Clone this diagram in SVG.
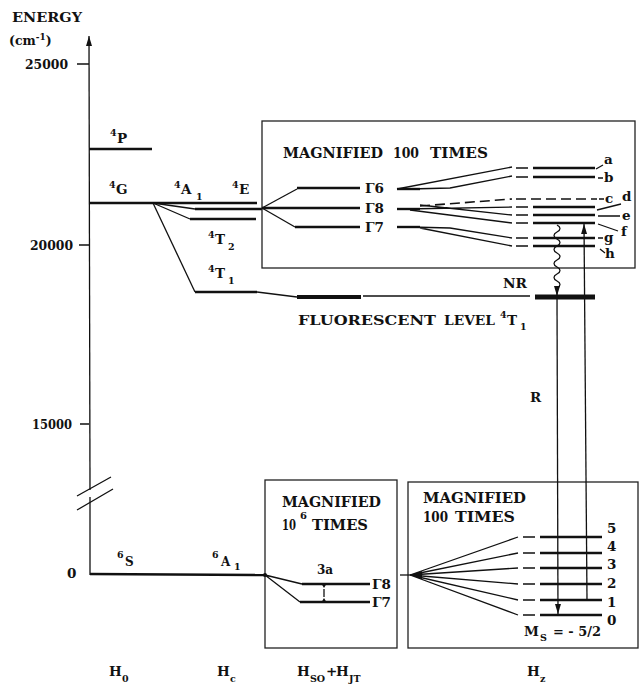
<svg xmlns="http://www.w3.org/2000/svg" width="640" height="685" viewBox="0 0 640 685">
<style>
.t{font-family:"DejaVu Serif","Liberation Serif",serif;font-weight:bold;fill:#111}
.s14{font-size:13.5px}
.s10{font-size:9.5px}
.ln{stroke:#111;stroke-width:1.3;fill:none}
.lv{stroke:#111;stroke-width:2.4;fill:none}
.bx{stroke:#222;stroke-width:1.3;fill:none}
.ds{stroke:#111;stroke-width:1.6;stroke-dasharray:10,5;fill:none}
</style>
<defs>
<marker id="ah" markerUnits="userSpaceOnUse" markerWidth="10" markerHeight="6" refX="10" refY="3" orient="auto"><path d="M0,0 L10,3 L0,6 z" fill="#111"/></marker>
</defs>
<rect width="640" height="685" fill="#fff"/>

<g id="axis">
<path class="ln" d="M90,490 L89,36" marker-end="url(#ah)"/>
<path class="ln" d="M90,575 L90,497"/>
<path class="ln" d="M77,496 L111,477 M77,510 L113,489"/>
<path class="ln" d="M77,64 L89,64 M79,245 L89,245 M80,424 L89,424"/>
<text class="t" x="12" y="22" font-size="12.5" textLength="70" lengthAdjust="spacingAndGlyphs">ENERGY</text>
<text class="t" x="9" y="45" font-size="12.5">(cm<tspan font-size="9" dy="-5">-1</tspan><tspan dy="5">)</tspan></text>
<text class="t s14" x="25" y="69" textLength="43" lengthAdjust="spacingAndGlyphs">25000</text>
<text class="t s14" x="30" y="250" textLength="43" lengthAdjust="spacingAndGlyphs">20000</text>
<text class="t s14" x="32" y="429" textLength="40" lengthAdjust="spacingAndGlyphs">15000</text>
<text class="t s14" x="67" y="578">0</text>
</g>

<g id="free-ion">
<path class="lv" d="M89,149 L152,149"/>
<path class="lv" d="M89,203 L153,203"/>
<text class="t s10" x="110" y="136">4</text><text class="t s14" x="117" y="143">P</text>
<text class="t s10" x="109" y="188">4</text><text class="t s14" x="116" y="194">G</text>
<path class="lv" d="M90,574 L265,575"/>
<text class="t s10" x="117" y="558">6</text><text class="t" font-size="12" x="125" y="566">S</text>
</g>

<g id="crystal-field">
<path class="lv" d="M153,203 L257,203"/>
<path class="ln" d="M153,203 L195,209"/><path class="lv" d="M195,209 L262,209"/>
<path class="ln" d="M153,203 L190,219"/><path class="lv" d="M190,219 L256,219"/>
<path class="ln" d="M153,203 L195,292"/><path class="lv" d="M195,292 L257,292"/>
<path class="ln" d="M257,292 L297,297"/>
<text class="t s10" x="174" y="188">4</text><text class="t s14" x="181" y="194">A</text><text class="t s10" x="196" y="200">1</text>
<text class="t s10" x="232" y="188">4</text><text class="t s14" x="239" y="194">E</text>
<text class="t s10" x="208" y="238">4</text><text class="t s14" x="215" y="244">T</text><text class="t s10" x="228" y="250">2</text>
<text class="t s10" x="208" y="272">4</text><text class="t s14" x="215" y="278">T</text><text class="t s10" x="228" y="284">1</text>
<text class="t s10" x="212" y="558">6</text><text class="t" font-size="12" x="221" y="566">A</text><text class="t s10" x="234" y="570">1</text>
</g>

<g id="fluorescent">
<path d="M297,297 L361,297" stroke="#111" stroke-width="4"/>
<path class="ln" d="M363,296 L530,296"/>
<path d="M535,297 L595,297" stroke="#111" stroke-width="5"/>
<text class="t" font-size="13" x="298" y="325" textLength="138" lengthAdjust="spacingAndGlyphs">FLUORESCENT</text>
<text class="t" font-size="13" x="444" y="325" textLength="51" lengthAdjust="spacingAndGlyphs">LEVEL</text>
<text class="t s10" x="500" y="318">4</text><text class="t s14" x="507" y="325">T</text><text class="t s10" x="520" y="330">1</text>
<text class="t" font-size="12.5" x="503" y="288" textLength="24" lengthAdjust="spacingAndGlyphs">NR</text>
<text class="t s14" x="530" y="402">R</text>
</g>

<g id="box-top">
<rect class="bx" x="262" y="121" width="373" height="147"/>
<text class="t" font-size="14" x="283" y="158" textLength="100" lengthAdjust="spacingAndGlyphs">MAGNIFIED</text>
<text class="t" font-size="14" x="393" y="158" textLength="26" lengthAdjust="spacingAndGlyphs">100</text>
<text class="t" font-size="14" x="430" y="158" textLength="58" lengthAdjust="spacingAndGlyphs">TIMES</text>
<path class="ln" d="M262,208 L297,189"/><path class="lv" d="M297,188 L360,188"/>
<path class="lv" d="M262,208 L360,208"/>
<path class="ln" d="M262,208 L295,227"/><path class="lv" d="M295,227 L360,227"/>
<text class="t s14" x="365" y="193">Γ6</text>
<text class="t s14" x="365" y="213">Γ8</text>
<text class="t s14" x="365" y="232">Γ7</text>
<path class="lv" d="M397,189 L420,189"/>
<path class="ln" d="M397,189 L512,167 M410,189 L450,188 L512,176"/>
<path class="lv" d="M397,209 L420,209"/>
<path class="ds" d="M420,206 L512,199"/>
<path class="ln" d="M405,209 L512,207 M420,205 L512,215 M410,210 L512,223"/>
<path class="lv" d="M397,227 L420,227"/>
<path class="ln" d="M410,227 L450,228 L512,238 M420,228 L512,246"/>
<path class="ln" d="M516,168 L528,168 M516,177 L528,177 M516,207 L528,207 M516,215 L528,215 M516,223 L528,223 M516,238 L528,238 M516,246 L528,246"/>
<path class="lv" d="M533,168 L595,168 M533,177 L595,177 M533,207 L595,207 M533,215 L595,215 M533,223 L595,223 M533,238 L595,238 M533,246 L595,246"/>
<path class="ds" d="M516,199 L597,199" stroke-dasharray="9,5"/>
<path class="ln" d="M596,169 L603,165 M598,178 L603,178 M599,199 L604,199 M597,210 L621,204 M598,216 L620,216 M598,224 L618,231 M598,238 L603,238 M600,249 L605,253"/>
<text class="t s14" x="604" y="164">a</text>
<text class="t s14" x="604" y="182">b</text>
<text class="t s14" x="605" y="203">c</text>
<text class="t s14" x="622" y="201">d</text>
<text class="t s14" x="622" y="220">e</text>
<text class="t s14" x="621" y="236">f</text>
<text class="t s14" x="604" y="242">g</text>
<text class="t s14" x="605" y="258">h</text>
</g>

<g id="box-mid">
<rect class="bx" x="265" y="480" width="132" height="168"/>
<text class="t" font-size="14" x="282" y="507" textLength="99" lengthAdjust="spacingAndGlyphs">MAGNIFIED</text>
<text class="t" font-size="14" x="282" y="530" textLength="14" lengthAdjust="spacingAndGlyphs">10</text>
<text class="t" font-size="10" x="300" y="519">6</text>
<text class="t" font-size="14" x="312" y="530" textLength="56" lengthAdjust="spacingAndGlyphs">TIMES</text>
<circle cx="265" cy="575" r="2" fill="#111"/>
<path class="ln" d="M265,575 L302,584 M265,575 L300,602"/>
<path class="lv" d="M302,584 L370,584 M300,602 L370,602"/>
<path class="ln" d="M324,589 L324,597"/>
<path d="M321,583 L327,583 L324,588 z M321,603 L327,603 L324,598 z" fill="#111"/>
<text class="t" font-size="12" x="317" y="574">3a</text>
<text class="t s14" x="372" y="589">Γ8</text>
<text class="t s14" x="372" y="607">Γ7</text>
</g>

<g id="box-right">
<rect class="bx" x="408" y="482" width="230" height="166"/>
<text class="t" font-size="14" x="423" y="503" textLength="103" lengthAdjust="spacingAndGlyphs">MAGNIFIED</text>
<text class="t" font-size="14" x="423" y="522" textLength="25" lengthAdjust="spacingAndGlyphs">100</text>
<text class="t" font-size="14" x="455" y="522" textLength="60" lengthAdjust="spacingAndGlyphs">TIMES</text>
<path class="ln" d="M400,575 L412,575"/>
<path d="M410,575 L422,571 L422,579 z" fill="#111"/>
<path class="ln" d="M410,575 L518,537 M410,575 L518,553 M410,575 L518,568 M410,575 L518,584 M410,575 L518,600 M410,575 L518,615"/>
<path class="ln" d="M523,537 L535,537 M523,553 L535,553 M523,568 L535,568 M523,584 L535,584 M523,600 L535,600 M523,615 L535,615"/>
<path class="lv" d="M540,537 L602,537 M540,553 L602,553 M540,568 L602,568 M540,584 L602,584 M540,600 L602,600 M540,615 L602,615"/>
<text class="t s14" x="607" y="533">5</text>
<text class="t s14" x="607" y="551">4</text>
<text class="t s14" x="607" y="569">3</text>
<text class="t s14" x="607" y="588">2</text>
<text class="t s14" x="607" y="607">1</text>
<text class="t s14" x="607" y="625">0</text>
<text class="t s14" x="524" y="636">M</text><text class="t s10" x="540" y="641">S</text>
<text class="t s14" x="553" y="636" textLength="48" lengthAdjust="spacingAndGlyphs">= - 5/2</text>
</g>

<g id="connectors">
<path class="ln" d="M557,225 c4,2 4,5 0,7 c-4,2 -4,5 0,7 c4,2 4,5 0,7 c-4,2 -4,5 0,7 c4,2 4,5 0,7 c-4,2 -4,5 0,7 c4,2 4,5 0,7 c-4,2 -4,5 0,7 c4,2 4,5 0,7 L557,296" marker-end="url(#ah)"/>
<path class="ln" d="M557,297 L558,614" marker-end="url(#ah)"/>
<path class="ln" d="M587,600 L584,224" marker-end="url(#ah)"/>
</g>

<g id="hamiltonians">
<text class="t s14" x="109" y="676">H</text><text class="t s10" x="122" y="682">0</text>
<text class="t s14" x="217" y="676">H</text><text class="t s10" x="230" y="682">c</text>
<text class="t s14" x="297" y="676">H</text><text class="t s10" x="310" y="682">SO</text><text class="t s14" x="326" y="676">+</text><text class="t s14" x="336" y="676">H</text><text class="t s10" x="349" y="682">JT</text>
<text class="t s14" x="527" y="676">H</text><text class="t s10" x="540" y="682">z</text>
</g>
</svg>
